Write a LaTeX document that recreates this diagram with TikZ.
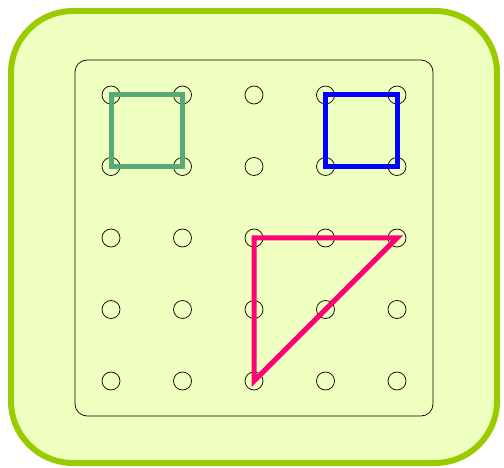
\documentclass[tikz,border=0pt]{standalone}
\definecolor{boardfill}{HTML}{EEFFC0}
\definecolor{boardedge}{HTML}{99CC00}
\definecolor{sqgreen}{HTML}{55AA77}
\definecolor{sqblue}{HTML}{0000FF}
\definecolor{trimag}{HTML}{FF0077}
\tikzset{
  peg/.style={draw=black, line width=0.7pt, circle, minimum size=18pt, inner sep=0pt},
  band/.style={line width=5pt, line join=miter},
}
\begin{document}
\begin{tikzpicture}[x=1pt,y=-1pt]
\useasboundingbox (0,0) rectangle (504,468);
\draw[boardedge, fill=boardfill, line width=6pt, rounded corners=62pt] (11,11) rectangle (497,463);
\draw[black, line width=0.7pt, rounded corners=12pt] (75,60) rectangle (433,416);
\foreach \i/\x in {1/111,2/182.5,3/254,4/325.5,5/397}{
  \foreach \j/\y in {1/95,2/166.5,3/238,4/309.5,5/381}{
    \node[peg] (p\i\j) at (\x,\y) {};
  }
}
\draw[band, sqgreen] (p11.center) -- (p21.center) -- (p22.center) -- (p12.center) -- cycle;
\draw[band, sqblue] (p41.center) -- (p51.center) -- (p52.center) -- (p42.center) -- cycle;
\draw[band, trimag] (p33.center) -- (p53.center) -- (p35.center) -- cycle;
\end{tikzpicture}
\end{document}
